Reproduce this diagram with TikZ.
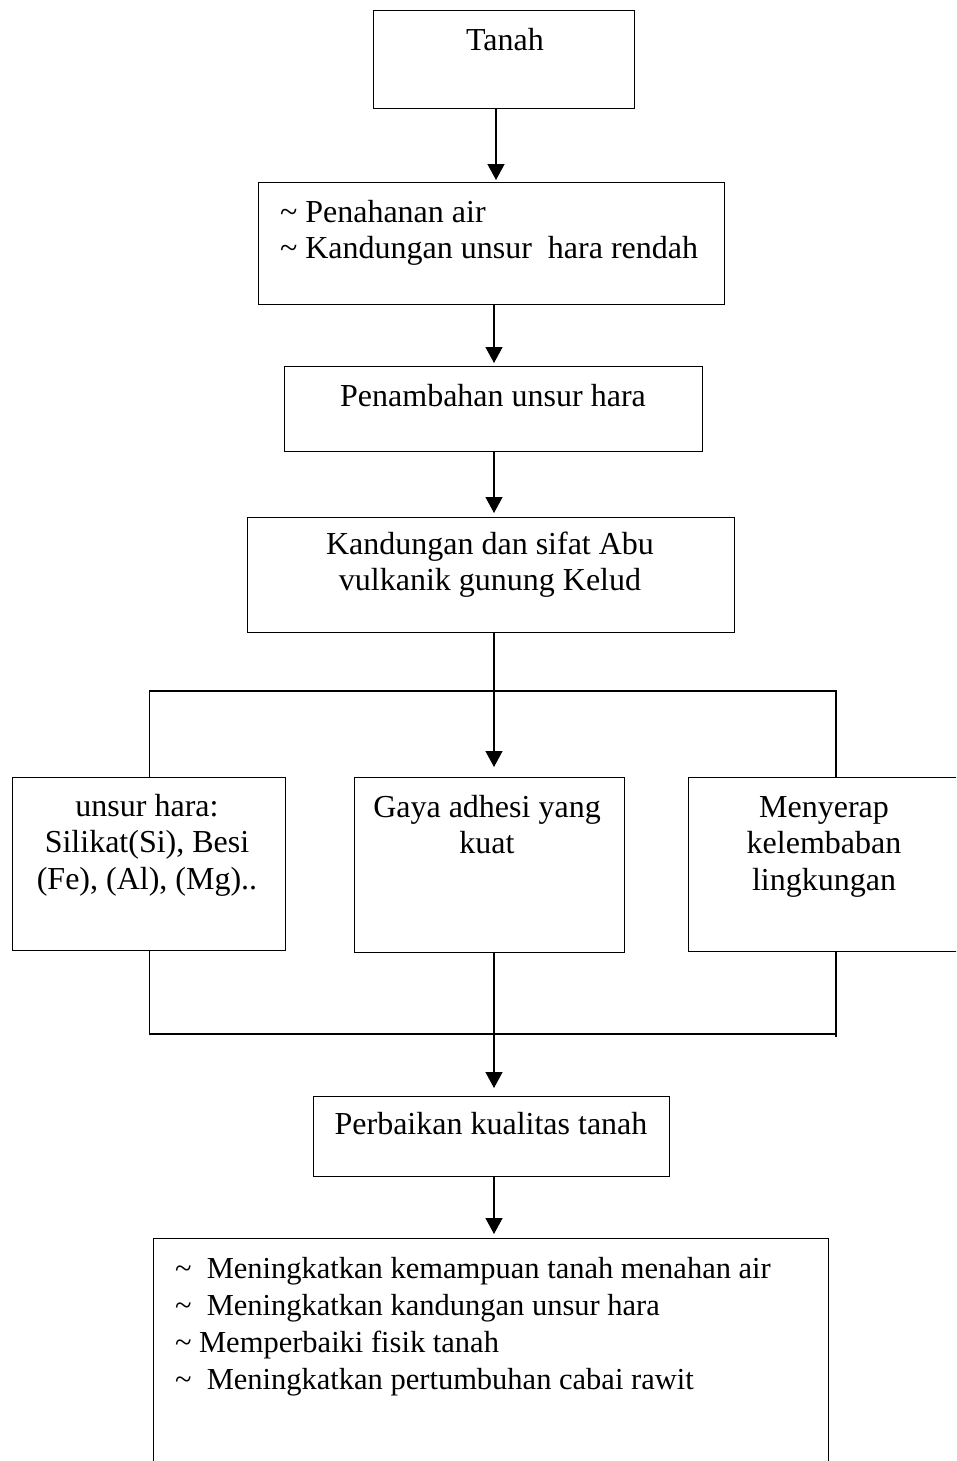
\documentclass[tikz,border=0pt]{standalone}
\usepackage{fontspec}
\setmainfont{Liberation Serif}
\usetikzlibrary{arrows.meta}
\tikzset{
  box/.style={draw=black, line width=1.3pt, rectangle, inner sep=0pt, anchor=north west, fill=none},
  txt/.style={inner sep=0pt, outer sep=0pt, font=\fontsize{32}{36.5}\selectfont},
  conn/.style={draw=black, line width=1.3pt},
  arr/.style={conn, -{Triangle[width=17pt,length=16pt]}},
}
\newcommand{\tl}{\textasciitilde}
\begin{document}
\begin{tikzpicture}[x=1pt,y=-1pt]
\useasboundingbox (0,0) rectangle (956,1461);
\clip (0,0) rectangle (956,1461);
\fill[white] (0,0) rectangle (956,1461);
% boxes
\node[box, minimum width=261pt, minimum height=98pt] (tanah) at (373,10) {};
\node[box, minimum width=466pt, minimum height=122pt] (b2) at (258,182) {};
\node[box, minimum width=418pt, minimum height=85pt] (b3) at (284,366) {};
\node[box, minimum width=487pt, minimum height=115pt] (b4) at (247,517) {};
\node[box, minimum width=273pt, minimum height=173pt] (left) at (12,777) {};
\node[box, minimum width=270pt, minimum height=175pt] (mid) at (354,777) {};
\node[box, minimum width=280pt, minimum height=174pt] (right) at (688,777) {};
\node[box, minimum width=356pt, minimum height=80pt] (perb) at (313,1096) {};
\node[box, minimum width=675pt, minimum height=260pt] (hasil) at (153,1238) {};
% texts
\node[txt, anchor=base] (ttanah) at (505,51) {Tanah};
\node[txt, anchor=base west] (tb2) at (280,222) {\begin{tabular}[t]{@{}l@{}}\tl\ Penahanan air\\ \tl\ Kandungan unsur\ \ hara rendah\end{tabular}};
\node[txt, anchor=base] (tb3) at (493,406) {Penambahan unsur hara};
\node[txt, anchor=base] (tb4) at (490,554) {\begin{tabular}[t]{@{}c@{}}Kandungan dan sifat Abu\\ vulkanik gunung Kelud\end{tabular}};
\node[txt, anchor=base] (tleft) at (147,816) {\begin{tabular}[t]{@{}c@{}}unsur hara:\\ Silikat(Si), Besi\\ (Fe), (Al), (Mg)..\end{tabular}};
\node[txt, anchor=base] (tmid) at (487,817) {\begin{tabular}[t]{@{}c@{}}Gaya adhesi yang\\ kuat\end{tabular}};
\node[txt, anchor=base] (tright) at (824,817) {\begin{tabular}[t]{@{}c@{}}Menyerap\\ kelembaban\\ lingkungan\end{tabular}};
\node[txt, anchor=base] (tperb) at (491,1134) {Perbaikan kualitas tanah};
\node[txt, anchor=base west, font=\fontsize{30.5}{37}\selectfont] (thasil) at (175,1278) {\begin{tabular}[t]{@{}l@{}}\tl\ \ Meningkatkan kemampuan tanah menahan air\\ \tl\ \ Meningkatkan kandungan unsur hara\\ \tl\ Memperbaiki fisik tanah\\ \tl\ \ Meningkatkan pertumbuhan cabai rawit\end{tabular}};
% helper coordinates
\coordinate (top) at (496,0);
\coordinate (spine) at (494,0);
\coordinate (rtop) at (836,691);
\coordinate (rbot) at (836,1034);
% connectors
\draw[arr, shorten >=2pt] (tanah.south -| top) -- (b2.north -| top);
\draw[arr, shorten >=3pt] (b2.south -| spine) -- (b3.north -| spine);
\draw[arr, shorten >=4pt] (b3.south -| spine) -- (b4.north -| spine);
\draw[arr, shorten >=10pt] (b4.south -| spine) -- (mid.north -| spine);
\draw[conn] (left.north) -- (left.north |- rtop) -- (rtop) -- (rtop |- right.north);
\draw[conn] (left.south) -- (left.south |- rbot) -- (rbot);
\draw[conn] (rtop |- right.south) -- ([yshift=-3pt]rbot);
\draw[arr, shorten >=8pt] (mid.south -| spine) -- (perb.north -| spine);
\draw[arr, shorten >=4pt] (perb.south -| spine) -- (hasil.north -| spine);
\end{tikzpicture}
\end{document}
